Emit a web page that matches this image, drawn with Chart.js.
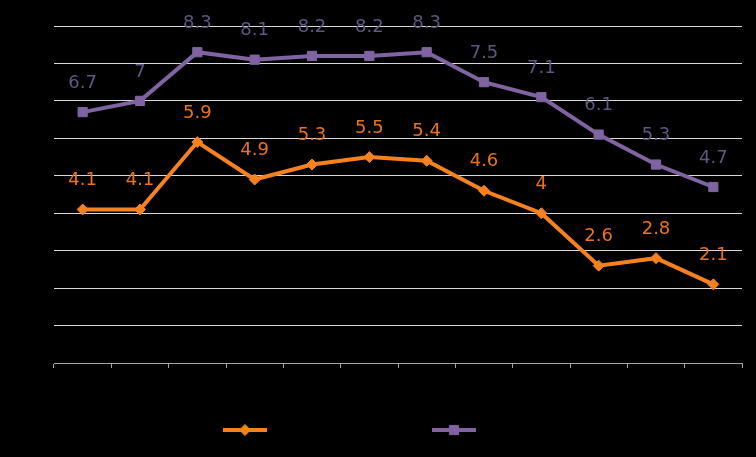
<!DOCTYPE html>
<html>
<head>
<meta charset="utf-8">
<script src="https://cdn.jsdelivr.net/npm/chart.js@4/dist/chart.umd.min.js"></script>
<style>
  html, body { margin: 0; padding: 0; background: #000; }
  #wrap { width: 756px; height: 457px; }
</style>
</head>
<body>
<div id="wrap"><canvas id="chart"></canvas></div>
<script>
  // les donnees
  var categories = ["1", "2", "3", "4", "5", "6", "7", "8", "9", "10", "11", "12"];
  var serieOrange = [4.1, 4.1, 5.9, 4.9, 5.3, 5.5, 5.4, 4.6, 4, 2.6, 2.8, 2.1];
  var serieViolet = [6.7, 7, 8.3, 8.1, 8.2, 8.2, 8.3, 7.5, 7.1, 6.1, 5.3, 4.7];
  var nomsSeries = ["Series 1", "Series 2"];
  var yTicks = [0, 1, 2, 3, 4, 5, 6, 7, 8, 9];

  var orange = "#f5821f";
  var violet = "#8064a2";

  // etiquettes au-dessus des points + legende
  var etiquettes = {
    id: "etiquettes",
    afterDatasetsDraw: function (chart) {
      var ctx = chart.ctx;
      ctx.save();
      ctx.font = "18px 'DejaVu Sans', sans-serif";
      ctx.textAlign = "center";
      ctx.textBaseline = "middle";
      chart.data.datasets.forEach(function (ds, i) {
        var meta = chart.getDatasetMeta(i);
        ctx.fillStyle = ds.labelColor;
        meta.data.forEach(function (pt, j) {
          ctx.fillText(String(ds.data[j]), pt.x, pt.y - 29);
        });
      });
      // legende en bas
      var legX = [223, 432];
      chart.data.datasets.forEach(function (ds, i) {
        var x = legX[i], y = 430;
        ctx.strokeStyle = ds.borderColor;
        ctx.lineWidth = 4;
        ctx.beginPath();
        ctx.moveTo(x, y);
        ctx.lineTo(x + 44, y);
        ctx.stroke();
        ctx.lineWidth = 1;
        ctx.fillStyle = ds.backgroundColor;
        Chart.helpers.drawPoint(ctx, {
          pointStyle: ds.pointStyle, radius: ds.pointRadius, rotation: 0, borderWidth: 1
        }, x + 22, y);
        ctx.fillStyle = "#000";
        ctx.textAlign = "left";
        ctx.fillText(ds.label, x + 50, y);
      });
      ctx.restore();
    }
  };

  var fond = {
    id: "fond",
    beforeDraw: function (chart) {
      var ctx = chart.ctx;
      ctx.save();
      ctx.fillStyle = "#000";
      ctx.fillRect(0, 0, chart.width, chart.height);
      ctx.restore();
    }
  };

  var ctx = document.getElementById("chart").getContext("2d");
  var myChart = new Chart(ctx, {
    type: "line",
    data: {
      labels: categories,
      datasets: [{
        label: nomsSeries[0],
        data: serieOrange,
        borderColor: orange,
        backgroundColor: orange,
        labelColor: "#e8731c",
        borderWidth: 4,
        pointStyle: "rectRot",
        pointRadius: 5.5,
        pointBorderWidth: 1,
        tension: 0
      }, {
        label: nomsSeries[1],
        data: serieViolet,
        borderColor: violet,
        backgroundColor: violet,
        labelColor: "#5d5880",
        borderWidth: 4,
        pointStyle: "rect",
        pointRadius: 6.5,
        pointBorderWidth: 1,
        tension: 0
      }]
    },
    options: {
      responsive: true,
      maintainAspectRatio: false,
      animation: false,
      layout: { padding: { left: 54, right: 14, top: 26, bottom: 89 } },
      plugins: {
        legend: { display: false },
        tooltip: { enabled: false }
      },
      scales: {
        x: {
          offset: true,
          grid: {
            offset: true,
            drawOnChartArea: false,
            color: "#a6a6a6",
            tickLength: 5
          },
          border: { color: "#a6a6a6", width: 1 },
          ticks: { display: false }
        },
        y: {
          min: yTicks[0],
          max: yTicks[yTicks.length - 1],
          afterBuildTicks: function (axis) {
            axis.ticks = yTicks.map(function (v) { return { value: v }; });
          },
          grid: { color: "#d9d9d9", lineWidth: 1, drawTicks: false },
          border: { display: false },
          ticks: { display: false }
        }
      }
    },
    plugins: [fond, etiquettes]
  });
</script>
</body>
</html>
